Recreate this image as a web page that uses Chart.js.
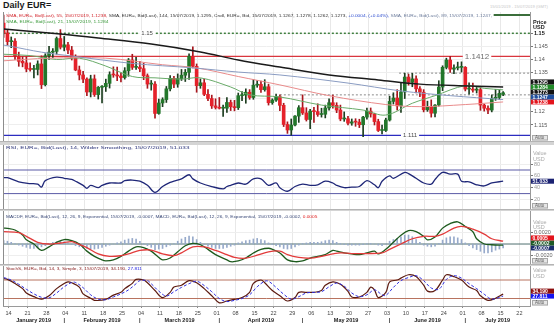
<!DOCTYPE html>
<html>
<head>
<meta charset="utf-8">
<title>Daily EUR=</title>
<script src="https://cdn.jsdelivr.net/npm/chart.js@4.4.1/dist/chart.umd.min.js"></script>
<style>
  body { margin: 0; background: #fff; }
  #wrap { position: relative; width: 554px; height: 328px; overflow: hidden; background: #fff; font-family: "Liberation Sans", Arial, sans-serif; }
  canvas { position: absolute; left: 0; }
  .band { position: absolute; left: 0; width: 554px; background: #d4d4d4; border-top: 1px solid #b4b4b4; box-sizing: border-box; }
  .hd { position: absolute; left: 6px; font-size: 4.4px; line-height: 5px; white-space: nowrap; transform-origin: 0 0; }
</style>
</head>
<body>
<div id="wrap">
  <div style="position:absolute;left:3px;top:0;font-weight:bold;font-size:9px;color:#1a1a1a">Daily EUR=</div>
  <div class="hd" data-w="58" style="left:490px;top:4px;color:#c8c8c8">15/01/2019 - 15/07/2019 (GMT)</div>

  <canvas id="main" width="554" height="129" style="top:12px"></canvas>
  <div class="band" style="top:141px;height:4px"></div>
  <canvas id="rsi" width="554" height="64" style="top:145px"></canvas>
  <div class="band" style="top:209px;height:2px"></div>
  <canvas id="macd" width="554" height="53" style="top:211px"></canvas>
  <div class="band" style="top:264px;height:2px"></div>
  <canvas id="stoch" width="554" height="62" style="top:266px"></canvas>

  <div class="hd" data-w="486" style="top:13px"><span style="color:#d2232a">SMA, EUR=, Bid(Last), 55, 15/07/2019, 1.1238, </span><span style="color:#333">SMA, EUR=, Bid(Last), 144, 15/07/2019, 1.1295, Cndl, EUR=, Bid, 15/07/2019, 1.1267, 1.1278, 1.1262, 1.1273, </span><span style="color:#2f4fd0">+0.0004, (+0.04%), </span><span style="color:#6a7a9a">SMA, EUR=, Bid(Last), 89, 15/07/2019, 1.1247,</span></div>
  <div class="hd" data-w="102" style="top:19px;color:#3c9a3c">SMA, EUR=, Bid(Last), 21, 15/07/2019, 1.1284</div>
  <div class="hd" data-w="183" style="top:145px;color:#2a3278">RSI, EUR=, Bid(Last), 14, Wilder Smoothing, 15/07/2019, 51.033</div>
  <div class="hd" data-w="311" style="top:213.5px;color:#3b4a78">MACDF, EUR=, Bid(Last), 12, 26, 9, Exponential, 15/07/2019, -0.0007, MACD, EUR=, Bid(Last), 12, 26, 9, Exponential, 15/07/2019, -0.0002, <span style="color:#e02020">0.0005</span></div>
  <div class="hd" data-w="136" style="top:266px;color:#8a2222">StochS, EUR=, Bid, 14, 3, Simple, 3, 15/07/2019, 34.190, <span style="color:#2020e0">27.811</span></div>
</div>

<script>
// daily candles, index 0 = Mon 14 Jan 2019 (first row: 10 and 11 Jan)
const FIRST_DAY = -2;
const open = [1.1539, 1.1501,
  1.1468, 1.1470, 1.1413, 1.1393, 1.1387,
  1.1364, 1.1362, 1.1362, 1.1383, 1.1304,
  1.1414, 1.1428, 1.1431, 1.1480, 1.1447,
  1.1456, 1.1436, 1.1406, 1.1360, 1.1341,
  1.1325, 1.1276, 1.1326, 1.1266, 1.1294,
  1.1296, 1.1309, 1.1342, 1.1341, 1.1337,
  1.1331, 1.1357, 1.1398, 1.1370, 1.1371,
  1.1365, 1.1338, 1.1306, 1.1306, 1.1194,
  1.1234, 1.1247, 1.1288, 1.1328, 1.1306,
  1.1327, 1.1340, 1.1351, 1.1412, 1.1374,
  1.1300, 1.1311, 1.1267, 1.1251, 1.1223,
  1.1217, 1.1214, 1.1214, 1.1236, 1.1220,
  1.1216, 1.1262, 1.1264, 1.1275, 1.1255,
  1.1302, 1.1305, 1.1285, 1.1296, 1.1235,
  1.1245, 1.1258, 1.1225, 1.1152, 1.1131,
  1.1150, 1.1184, 1.1216, 1.1196, 1.1171,
  1.1203, 1.1201, 1.1190, 1.1191, 1.1215,
  1.1235, 1.1225, 1.1207, 1.1173, 1.1174,
  1.1157, 1.1162, 1.1161, 1.1151, 1.1180,
  1.1203, 1.1192, 1.1163, 1.1129, 1.1129,
  1.1169, 1.1240, 1.1253, 1.1223, 1.1276,
  1.1333, 1.1313, 1.1326, 1.1288, 1.1275,
  1.1208, 1.1221, 1.1195, 1.1226, 1.1295,
  1.1370, 1.1398, 1.1363, 1.1368, 1.1370,
  1.1370, 1.1287, 1.1287, 1.1283, 1.1285,
  1.1226, 1.1214, 1.1207, 1.1252, 1.1255,
  1.1267];
const high = [1.1570, 1.1513,
  1.1486, 1.1480, 1.1428, 1.1410, 1.1410,
  1.1387, 1.1378, 1.1395, 1.1414, 1.1422,
  1.1450, 1.1442, 1.1486, 1.1514, 1.1488,
  1.1466, 1.1450, 1.1418, 1.1375, 1.1355,
  1.1330, 1.1340, 1.1341, 1.1297, 1.1300,
  1.1325, 1.1353, 1.1372, 1.1371, 1.1349,
  1.1369, 1.1404, 1.1420, 1.1408, 1.1393,
  1.1386, 1.1345, 1.1320, 1.1316, 1.1249,
  1.1254, 1.1297, 1.1339, 1.1336, 1.1345,
  1.1362, 1.1362, 1.1422, 1.1448, 1.1383,
  1.1326, 1.1325, 1.1285, 1.1264, 1.1250,
  1.1255, 1.1226, 1.1255, 1.1245, 1.1244,
  1.1272, 1.1278, 1.1288, 1.1285, 1.1324,
  1.1320, 1.1318, 1.1323, 1.1306, 1.1250,
  1.1268, 1.1265, 1.1233, 1.1162, 1.1173,
  1.1186, 1.1224, 1.1265, 1.1216, 1.1210,
  1.1217, 1.1231, 1.1214, 1.1226, 1.1250,
  1.1264, 1.1235, 1.1226, 1.1200, 1.1183,
  1.1173, 1.1174, 1.1172, 1.1183, 1.1215,
  1.1215, 1.1195, 1.1172, 1.1150, 1.1176,
  1.1260, 1.1273, 1.1285, 1.1309, 1.1348,
  1.1344, 1.1347, 1.1338, 1.1297, 1.1285,
  1.1241, 1.1246, 1.1228, 1.1319, 1.1376,
  1.1405, 1.1412, 1.1380, 1.1390, 1.1391,
  1.1373, 1.1311, 1.1310, 1.1295, 1.1293,
  1.1230, 1.1223, 1.1265, 1.1286, 1.1283,
  1.1278];
const low = [1.1484, 1.1455,
  1.1445, 1.1400, 1.1374, 1.1372, 1.1353,
  1.1355, 1.1330, 1.1341, 1.1289, 1.1299,
  1.1400, 1.1407, 1.1420, 1.1440, 1.1433,
  1.1422, 1.1398, 1.1357, 1.1322, 1.1312,
  1.1262, 1.1257, 1.1259, 1.1249, 1.1234,
  1.1278, 1.1291, 1.1332, 1.1319, 1.1314,
  1.1325, 1.1336, 1.1362, 1.1362, 1.1354,
  1.1323, 1.1290, 1.1283, 1.1176, 1.1191,
  1.1220, 1.1236, 1.1280, 1.1292, 1.1294,
  1.1320, 1.1316, 1.1324, 1.1368, 1.1275,
  1.1290, 1.1262, 1.1243, 1.1213, 1.1211,
  1.1211, 1.1183, 1.1198, 1.1205, 1.1204,
  1.1209, 1.1243, 1.1233, 1.1248, 1.1248,
  1.1294, 1.1274, 1.1279, 1.1226, 1.1229,
  1.1240, 1.1205, 1.1144, 1.1118, 1.1111,
  1.1146, 1.1160, 1.1190, 1.1165, 1.1136,
  1.1160, 1.1183, 1.1180, 1.1177, 1.1207,
  1.1214, 1.1197, 1.1166, 1.1164, 1.1150,
  1.1149, 1.1145, 1.1140, 1.1105, 1.1172,
  1.1180, 1.1150, 1.1125, 1.1116, 1.1125,
  1.1165, 1.1230, 1.1207, 1.1198, 1.1251,
  1.1302, 1.1296, 1.1272, 1.1258, 1.1200,
  1.1202, 1.1180, 1.1181, 1.1222, 1.1281,
  1.1364, 1.1351, 1.1346, 1.1360, 1.1352,
  1.1280, 1.1268, 1.1275, 1.1272, 1.1206,
  1.1203, 1.1193, 1.1200, 1.1244, 1.1247,
  1.1262];
const close = [1.1501, 1.1468,
  1.1470, 1.1413, 1.1393, 1.1387, 1.1364,
  1.1362, 1.1362, 1.1383, 1.1304, 1.1414,
  1.1428, 1.1431, 1.1480, 1.1447, 1.1456,
  1.1436, 1.1406, 1.1360, 1.1341, 1.1325,
  1.1276, 1.1326, 1.1266, 1.1294, 1.1296,
  1.1309, 1.1342, 1.1341, 1.1337, 1.1331,
  1.1357, 1.1398, 1.1370, 1.1371, 1.1365,
  1.1338, 1.1306, 1.1306, 1.1194, 1.1234,
  1.1247, 1.1288, 1.1328, 1.1306, 1.1327,
  1.1340, 1.1351, 1.1412, 1.1374, 1.1300,
  1.1311, 1.1267, 1.1251, 1.1223, 1.1217,
  1.1214, 1.1214, 1.1236, 1.1220, 1.1216,
  1.1262, 1.1264, 1.1275, 1.1255, 1.1302,
  1.1305, 1.1285, 1.1296, 1.1235, 1.1245,
  1.1258, 1.1225, 1.1152, 1.1131, 1.1150,
  1.1184, 1.1216, 1.1196, 1.1171, 1.1203,
  1.1201, 1.1190, 1.1191, 1.1215, 1.1235,
  1.1225, 1.1207, 1.1173, 1.1174, 1.1157,
  1.1162, 1.1161, 1.1151, 1.1180, 1.1203,
  1.1192, 1.1163, 1.1129, 1.1129, 1.1169,
  1.1240, 1.1253, 1.1223, 1.1276, 1.1333,
  1.1313, 1.1326, 1.1288, 1.1275, 1.1208,
  1.1221, 1.1195, 1.1226, 1.1295, 1.1370,
  1.1398, 1.1363, 1.1368, 1.1370, 1.1370,
  1.1287, 1.1287, 1.1283, 1.1285, 1.1226,
  1.1214, 1.1207, 1.1252, 1.1255, 1.1271,
  1.1273];

// moving averages at a few days each
const sma144Day = [-2, 13, 23, 37, 50, 60, 71, 84, 97, 108, 121, 130];
const sma144 = [1.1516, 1.1497, 1.1482, 1.1459, 1.1429, 1.1398, 1.1371, 1.1341, 1.1322, 1.1306, 1.1299, 1.1295];
const sma89Day = [-2, 0, 8, 15, 32, 48, 60, 71, 89, 103, 116, 130];
const sma89 = [1.1455, 1.1450, 1.1428, 1.1415, 1.1385, 1.1368, 1.1352, 1.1341, 1.1310, 1.1280, 1.1262, 1.1247];
const sma55Day = [-2, 10, 25, 40, 49, 60, 71, 84, 99, 108, 120, 130];
const sma55 = [1.1395, 1.1405, 1.1405, 1.1380, 1.1368, 1.1335, 1.1303, 1.1262, 1.1228, 1.1220, 1.1228, 1.1238];
const sma21Day = [-2, 5, 12, 18, 25, 32, 38, 45, 50, 58, 63, 71, 82, 93, 99, 106, 112, 120, 125, 130];
const sma21 = [1.1420, 1.1415, 1.1400, 1.1405, 1.1375, 1.1335, 1.1330, 1.1325, 1.1330, 1.1295, 1.1265, 1.1257, 1.1226, 1.1207, 1.1188, 1.1233, 1.1262, 1.1300, 1.1290, 1.1284];

// horizontal levels on the price panel
const priceLevels = [1.15, 1.1412, 1.111, 1.1348, 1.1265, 1.1570];
const levelFrom = [-3, -3, -3, 102.5, 71, 127.5];
const levelText = ['1.15', '1.1412', '1.111'];
const levelTextAt = [35.9, 123.1, 105.4];

// RSI 14
const rsiDay = [-2, -1, 2, 5, 7, 8, 9, 12, 14, 16, 17, 19, 20, 21, 23, 24, 26, 29, 30, 32, 34, 36, 38, 40, 42, 43, 45, 47, 48, 50, 53, 56, 57, 58, 60, 62, 64, 66, 68, 70, 71, 73, 75, 77, 79, 81, 83, 85, 86, 88, 90, 92, 94, 96, 97, 98, 100, 101, 104, 105, 107, 109, 111, 112, 114, 116, 118, 119, 121, 123, 125, 127, 130];
const rsi = [57, 57, 50, 47, 46, 41, 52, 58, 56, 54, 51, 44, 39, 44, 40, 44, 48, 48, 52, 53, 51, 44, 32, 42, 49, 51, 55, 62, 55, 48, 42, 38, 42, 44, 48, 46, 55, 55, 44, 48, 40, 34, 42, 46, 44, 45, 51, 48, 44, 40, 41, 42, 52, 45, 40, 51, 60, 56, 66, 64, 56, 48, 46, 54, 66, 63, 63, 51, 50, 45, 43, 48, 51.033];
const rsiLevels = [70, 30];

// MACD 12,26,9
const macdDay = [-2, -1, 1, 3, 4, 6, 8, 10, 12, 14, 16, 18, 20, 22, 24, 25, 27, 29, 31, 33, 35, 37, 39, 40, 42, 44, 46, 48, 50, 52, 54, 57, 58, 60, 62, 64, 66, 68, 69, 71, 73, 75, 77, 79, 81, 83, 85, 86, 88, 90, 92, 94, 96, 97, 99, 101, 103, 105, 107, 109, 110, 112, 114, 116, 118, 120, 122, 123, 125, 127, 130];
const macd = [0.00284, 0.0028, 0.0025, 0.0016, 0.00075, 0, -0.00114, -0.0005, 0.0003, 0.0008, 0.0006, 0, -0.00127, -0.0022, -0.00284, -0.003, -0.00284, -0.0022, -0.00127, -0.0005, -0.00064, -0.00127, -0.0024, -0.00284, -0.0025, -0.0014, -0.0003, 0.00012, -0.00013, -0.00095, -0.0019, -0.00284, -0.00316, -0.00303, -0.0025, -0.0016, -0.00095, -0.00076, -0.00095, -0.0016, -0.00284, -0.00316, -0.00303, -0.0025, -0.0022, -0.0019, -0.00114, -0.00127, -0.00158, -0.00177, -0.0019, -0.00158, -0.00127, -0.00177, -0.00095, 0.00031, 0.00157, 0.00239, 0.0022, 0.00138, 0.00075, 0.00125, 0.00284, 0.00366, 0.00396, 0.00314, 0.0022, 0.00094, 0, -0.00013, -0.0002];
const signalDay = [-2, 2, 4, 7, 10, 13, 16, 17, 20, 23, 26, 29, 31, 34, 37, 40, 43, 45, 48, 51, 54, 57, 59, 62, 65, 68, 71, 73, 76, 79, 82, 85, 87, 90, 94, 98, 100, 103, 106, 109, 112, 114, 117, 119, 122, 125, 127, 130];
const signal = [0.0022, 0.00202, 0.00138, 0.00031, 0, 0.00018, 0.00043, 0.00018, -0.00064, -0.00177, -0.00221, -0.00209, -0.00177, -0.00114, -0.00108, -0.00177, -0.00209, -0.00158, -0.00051, -0.00051, -0.00114, -0.0019, -0.0024, -0.00253, -0.002, -0.00139, -0.00127, -0.0019, -0.0024, -0.00253, -0.00221, -0.00177, -0.00158, -0.0017, -0.0017, -0.00158, -0.00095, 0, 0.00094, 0.00138, 0.00138, 0.00177, 0.00284, 0.00314, 0.00265, 0.00177, 0.00094, 0.0005];
// histogram, one bar per day from 10 Jan
const macdHist = [0.0006, 0.0005,
  0.0003, 0.0001, -0.0002, -0.0004, -0.0006,
  -0.0008, -0.0008, -0.0007, -0.0005, -0.0003,
  0.0001, 0.0003, 0.0004, 0.0005, 0.0004,
  0.0002, -0.0001, -0.0003, -0.0005, -0.0007,
  -0.0008, -0.0009, -0.0009, -0.0008, -0.0006,
  -0.0004, -0.0002, 0, 0.0002, 0.0004,
  0.0007, 0.0009, 0.001, 0.0009, 0.0005,
  0.0001, -0.0003, -0.0006, -0.001, -0.0009,
  -0.0008, -0.0005, -0.0002, 0.0001, 0.0005,
  0.0009, 0.0012, 0.0014, 0.0013, 0.0008,
  0.0003, -0.0001, -0.0004, -0.0006, -0.0008,
  -0.0008, -0.0008, -0.0006, -0.0004, -0.0002,
  0.0002, 0.0004, 0.0006, 0.0007, 0.0009,
  0.001, 0.0008, 0.0006, 0.0002, -0.0001,
  -0.0003, -0.0005, -0.0008, -0.0009, -0.0008,
  -0.0005, -0.0002, 0.0001, 0.0002, 0.0003,
  0.0003, 0.0003, 0.0004, 0.0006, 0.0007,
  0.0006, 0.0003, 0.0001, -0.0001, -0.0002,
  -0.0002, -0.0002, -0.0002, -0.0001, 0.0001,
  0.0001, 0, -0.0002, -0.0003, 0,
  0.0005, 0.0008, 0.001, 0.0013, 0.0016,
  0.0016, 0.0013, 0.0008, 0.0003, -0.0002,
  -0.0004, -0.0005, -0.0004, 0.0001, 0.0007,
  0.0011, 0.0013, 0.0013, 0.0011, 0.0008,
  0.0002, -0.0003, -0.0007, -0.001, -0.0013,
  -0.0016, -0.0016, -0.0014, -0.0011, -0.0009,
  -0.0007];

// slow stochastic 14,3,3
const stochKDay = [-2, -1, 1, 3, 4, 6, 8, 10, 12, 14, 15, 16, 18, 19, 21, 22, 25, 27, 29, 30, 32, 33, 35, 36, 38, 40, 42, 43, 45, 47, 49, 51, 53, 55, 57, 59, 61, 63, 64, 66, 67, 69, 71, 73, 75, 76, 78, 80, 82, 83, 85, 87, 89, 90, 92, 94, 95, 96, 97, 99, 100, 102, 103, 105, 107, 109, 110, 112, 114, 115, 117, 119, 121, 123, 124, 126, 128, 130];
const stochK = [85, 82, 69, 52, 38, 26, 18, 29, 52, 69, 74, 71, 57, 35, 21, 14, 17, 31, 40, 52, 69, 82, 80, 71, 46, 23, 40, 57, 63, 78, 71, 52, 29, 6, 12, 17, 23, 40, 69, 80, 71, 46, 29, 12, 23, 40, 40, 40, 46, 63, 74, 66, 43, 25, 25, 40, 57, 48, 23, 40, 74, 80, 86, 97, 91, 63, 44, 46, 80, 97, 91, 80, 57, 46, 29, 14, 21, 34.19];
const stochDDay = [-2, 0, 2, 4, 6, 8, 10, 12, 14, 16, 17, 19, 21, 23, 25, 27, 29, 31, 33, 34, 36, 37, 39, 41, 43, 45, 47, 49, 51, 53, 55, 57, 59, 61, 63, 65, 67, 68, 70, 72, 74, 76, 78, 80, 82, 84, 86, 88, 90, 92, 94, 96, 98, 99, 101, 103, 105, 107, 109, 111, 113, 115, 117, 119, 121, 123, 125, 127, 130];
const stochD = [88, 80, 66, 50, 35, 24, 22, 38, 58, 72, 72, 55, 32, 18, 16, 25, 35, 48, 68, 78, 78, 68, 44, 28, 42, 56, 68, 76, 62, 42, 20, 10, 14, 20, 32, 58, 76, 76, 56, 34, 18, 26, 38, 40, 42, 58, 70, 60, 38, 26, 32, 48, 32, 30, 56, 78, 88, 94, 78, 54, 50, 82, 94, 86, 68, 52, 34, 18, 27.811];
const stochLevels = [80, 20];

// date axis
const dayLabels = ['14', '21', '28', '04', '11', '18', '25', '04', '11', '18', '25', '01', '08', '15', '22', '29', '06', '13', '20', '27', '03', '10', '17', '24', '01', '08', '15', '22'];
const monthNames = ['January 2019', 'February 2019', 'March 2019', 'April 2019', 'May 2019', 'June 2019', 'July 2019'];
const monthStart = [-2, 14, 34, 55, 77, 100, 120];

const X_MIN = -2.17, X_MAX = 137.1;
const weekTicks = dayLabels.map((_, i) => i * 5 - 0.7);
const days = open.map((_, i) => FIRST_DAY + i);
const pts = (xs, ys) => xs.map((x, i) => ({ x: x, y: ys[i] }));
const last = a => a[a.length - 1];
const FONT = '"Liberation Sans", Arial, sans-serif';

function xAxis(height) {
  return {
    type: 'linear', min: X_MIN, max: X_MAX, offset: false,
    afterBuildTicks: s => { s.ticks = weekTicks.map(v => ({ value: v })); },
    afterFit: s => { s.height = height; },
    grid: { color: '#e8e8e8', offset: false, drawTicks: height > 0, tickLength: 2, tickColor: '#888' },
    border: { display: height > 0, color: '#9a9a9a' },
    ticks: { display: false }
  };
}

function yAxis(min, max, ticks) {
  return {
    position: 'right', min: min, max: max,
    afterBuildTicks: s => { s.ticks = ticks.map(v => ({ value: v })); },
    afterFit: s => { s.width = 24; },
    grid: { color: '#eeeeee', tickLength: 3, tickColor: '#777' },
    border: { color: '#999' },
    ticks: { display: false }
  };
}

function levelLine(value, from, color, width, dash) {
  return {
    type: 'line', data: [{ x: from, y: value }, { x: X_MAX + 1, y: value }],
    borderColor: color, borderWidth: width, borderDash: dash, pointRadius: 0, order: 6
  };
}

function curve(xs, ys, color, width, dash) {
  return {
    type: 'line', data: pts(xs, ys), borderColor: color, borderWidth: width,
    borderDash: dash || [], pointRadius: 0, tension: 0.35, order: 1
  };
}

// right axis labels, value boxes and the frame
function side(cfg) {
  return {
    id: 'side',
    afterDraw(chart) {
      const ctx = chart.ctx, a = chart.chartArea, ys = chart.scales.y;
      ctx.save();
      ctx.strokeStyle = '#8c8c8c';
      ctx.lineWidth = 1;
      ctx.beginPath();
      ctx.moveTo(a.left + 0.5, a.top);
      ctx.lineTo(a.left + 0.5, a.bottom);
      ctx.stroke();
      ctx.textBaseline = 'middle';
      ctx.textAlign = 'left';
      (cfg.captions || []).forEach(c => {
        ctx.font = (c.bold ? 'bold ' : '') + '5.5px ' + FONT;
        ctx.fillStyle = c.color;
        ctx.fillText(c.text, a.right + 3, a.top + c.dy);
      });
      (cfg.ticks || []).forEach(v => {
        const bold = cfg.boldTick === v;
        ctx.font = (bold ? 'bold ' : '') + '5.5px ' + FONT;
        ctx.fillStyle = bold ? '#111' : (cfg.tickColor || '#555');
        ctx.fillText(cfg.fmt(v), a.right + 4, ys.getPixelForValue(v));
      });
      const boxes = (cfg.boxes || []).map(b => ({ v: b.v, bg: b.bg, py: ys.getPixelForValue(b.v) }))
        .sort((p, q) => q.py - p.py);
      let prev = Infinity;
      boxes.forEach(b => {
        b.py = Math.min(b.py, prev - 5);
        prev = b.py;
        ctx.fillStyle = b.bg;
        ctx.fillRect(a.right + 1, b.py - 2.5, 23, 5);
        ctx.font = 'bold 5px ' + FONT;
        ctx.fillStyle = '#fff';
        ctx.fillText(cfg.boxFmt(b.v), a.right + 2.5, b.py + 0.2);
      });
      ctx.fillStyle = '#e6e6e6';
      ctx.strokeStyle = '#a8a8a8';
      ctx.fillRect(a.right + 2, a.bottom - 6, 16, 5.5);
      ctx.strokeRect(a.right + 2.5, a.bottom - 5.5, 15, 4.5);
      ctx.font = '4.5px ' + FONT;
      ctx.fillStyle = '#555';
      ctx.fillText('Auto', a.right + 5, a.bottom - 3.2);
      if (cfg.extra) cfg.extra(chart, ctx, a);
      ctx.restore();
    }
  };
}

function baseOptions(y, xh) {
  return {
    responsive: false, animation: false, events: [],
    layout: { padding: { left: 3, right: 0, top: 0, bottom: 0 } },
    plugins: { legend: { display: false }, tooltip: { enabled: false } },
    scales: { x: xAxis(xh), y: y }
  };
}

// price panel
const levelStyle = [
  ['#3f7f3f', 1.5, [2, 2]], ['#d9363e', 1.2, []], ['#2c2cc0', 1.2, []],
  ['#8a8a8a', 1, [2, 2]], ['#8a8a8a', 1, [2, 2]], ['#3b6e3b', 2, []]
];
const levelFont = [6, 8, 6];

new Chart(document.getElementById('main'), {
  type: 'bar',
  data: {
    datasets: [
      ...priceLevels.map((v, i) => levelLine(v, levelFrom[i], levelStyle[i][0], levelStyle[i][1], levelStyle[i][2])),
      {
        data: days.map((d, i) => ({ x: d, y: [low[i], high[i]] })),
        backgroundColor: days.map((d, i) => close[i] >= open[i] ? '#1c3d1f' : '#a8161d'),
        barThickness: 1, grouped: false, order: 4
      },
      {
        data: days.map((d, i) => ({ x: d, y: [open[i], close[i]] })),
        backgroundColor: days.map((d, i) => close[i] >= open[i] ? '#23772b' : '#e5212a'),
        barThickness: 3, minBarLength: 1, grouped: false, order: 3
      },
      curve(sma144Day, sma144, '#1a1a1a', 1.5),
      curve(sma89Day, sma89, '#8a9cc2', 1),
      curve(sma55Day, sma55, '#e98b8b', 1),
      curve(sma21Day, sma21, '#69ab69', 1)
    ]
  },
  options: baseOptions(yAxis(1.10889, 1.15813, [1.115, 1.12, 1.125, 1.13, 1.135, 1.14, 1.145, 1.15]), 0),
  plugins: [side({
    ticks: [1.115, 1.12, 1.125, 1.13, 1.135, 1.14, 1.145, 1.15], boldTick: 1.15,
    fmt: v => String(+v.toFixed(4)), boxFmt: v => v.toFixed(4),
    captions: [{ text: 'Price', dy: 10, bold: true, color: '#222' }, { text: 'USD', dy: 15.5, bold: true, color: '#222' }],
    boxes: [
      { v: last(sma144), bg: '#141414' }, { v: last(sma21), bg: '#1f8a26' }, { v: last(close), bg: '#141414' },
      { v: last(sma89), bg: '#1f4f9e' }, { v: last(sma55), bg: '#e3141c' }
    ],
    extra(chart, ctx) {
      const xs = chart.scales.x, ys = chart.scales.y;
      ctx.textAlign = 'center';
      levelText.forEach((t, i) => {
        ctx.font = levelFont[i] + 'px ' + FONT;
        const px = xs.getPixelForValue(levelTextAt[i]), py = ys.getPixelForValue(priceLevels[i]);
        const w = ctx.measureText(t).width + 4;
        ctx.fillStyle = '#fff';
        ctx.fillRect(px - w / 2, py - levelFont[i] / 2, w, levelFont[i]);
        ctx.fillStyle = i === 1 ? '#6e6e6e' : '#4a4a4a';
        ctx.fillText(t, px, py + 0.3);
      });
    }
  })]
});

// RSI panel
new Chart(document.getElementById('rsi'), {
  type: 'line',
  data: {
    datasets: [
      ...rsiLevels.map(v => levelLine(v, -3, '#5b5ba6', 1, [])),
      curve(rsiDay, rsi, '#1f2778', 1.3)
    ]
  },
  options: baseOptions(yAxis(3.9, 112.4, [20, 40, 60, 80]), 0),
  plugins: [side({
    ticks: [20, 40, 60, 80], tickColor: '#9a9a9a', fmt: v => String(v), boxFmt: v => v.toFixed(3),
    captions: [{ text: 'Value', dy: 8, color: '#aaa' }, { text: 'USD', dy: 14, color: '#aaa' }],
    boxes: [{ v: last(rsi), bg: '#1b2272' }]
  })]
});

// MACD panel
new Chart(document.getElementById('macd'), {
  type: 'bar',
  data: {
    datasets: [
      levelLine(0, -3, '#4f6f6f', 1, []),
      { data: pts(days, macdHist), backgroundColor: '#97aacb', barThickness: 1, grouped: false, order: 5 },
      curve(signalDay, signal, '#e23b3b', 1.3),
      curve(macdDay, macd, '#1d5a1d', 1.3)
    ]
  },
  options: baseOptions(yAxis(-0.00357, 0.0059, [-0.002, 0.002]), 0),
  plugins: [side({
    ticks: [-0.002, 0.002], tickColor: '#666', fmt: v => v.toFixed(4), boxFmt: v => v.toFixed(4),
    captions: [{ text: 'Value', dy: 11, color: '#aaa' }, { text: 'USD', dy: 16.5, color: '#aaa' }],
    boxes: [{ v: last(signal), bg: '#e3141c' }, { v: last(macd), bg: '#1e5a26' }, { v: last(macdHist), bg: '#1b2d6e' }]
  })]
});

// stochastic panel with the date axis
new Chart(document.getElementById('stoch'), {
  type: 'line',
  data: {
    datasets: [
      ...stochLevels.map(v => levelLine(v, -3, '#b8735f', 1, [])),
      curve(stochDDay, stochD, '#2f2fe0', 1, [3, 2]),
      curve(stochKDay, stochK, '#5c1a10', 1.2)
    ]
  },
  options: baseOptions(yAxis(-4.3, 125.4, []), 22),
  plugins: [side({
    ticks: [], fmt: v => String(v), boxFmt: v => v.toFixed(3),
    captions: [{ text: 'Value', dy: 4.5, color: '#aaa' }, { text: 'USD', dy: 10, color: '#aaa' }],
    boxes: [{ v: last(stochK), bg: '#8c0e0e' }, { v: last(stochD), bg: '#1414f0' }],
    extra(chart, ctx, a) {
      const xs = chart.scales.x;
      ctx.textAlign = 'center';
      ctx.font = '5.5px ' + FONT;
      ctx.fillStyle = '#444';
      dayLabels.forEach((t, i) => ctx.fillText(t, xs.getPixelForValue(weekTicks[i]), a.bottom + 7));
      ctx.font = 'bold 5.5px ' + FONT;
      ctx.fillStyle = '#222';
      monthNames.forEach((m, i) => {
        const x0 = i === 0 ? a.left : xs.getPixelForValue(monthStart[i]);
        const x1 = i === monthNames.length - 1 ? a.right : xs.getPixelForValue(monthStart[i + 1]);
        ctx.fillText(m, (x0 + x1) / 2, a.bottom + 14.5);
        if (i > 0) ctx.fillText('|', x0, a.bottom + 14.5);
      });
    }
  })]
});

function fitHeaders() {
  document.querySelectorAll('.hd').forEach(el => {
    el.style.transform = 'none';
    el.style.transform = 'scaleX(' + (+el.dataset.w / el.scrollWidth) + ')';
  });
}
fitHeaders();
if (document.fonts) document.fonts.ready.then(fitHeaders);
</script>
</body>
</html>
